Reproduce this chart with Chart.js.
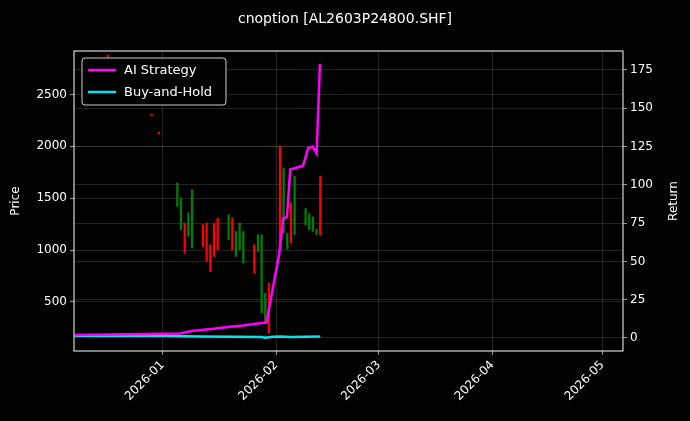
<!DOCTYPE html>
<html><head><meta charset="utf-8">
<script src="https://cdn.jsdelivr.net/npm/chart.js@4"></script>
<style>html,body{margin:0;background:#000;}#c{display:block}</style></head>
<body><canvas id="c" width="690" height="421"></canvas>
<script>
// days relative to 2026-01-01
const candleDays = [-15,-3,-1,4,5,6,7,8,11,12,13,14,15,18,19,20,21,22,25,26,27,28,29,32,33,34,35,36,39,40,41,42,43];
const candleLow  = [2860,2295,2120,1421,1196,970,1131,1019,1034,890,793,938,1002,1099,1002,938,1002,874,777,986,391,294,197,1000,1163,1010,1067,1147,1244,1196,1179,1150,1147];
const candleHigh = [2880,2310,2135,1647,1502,1260,1357,1582,1244,1260,1051,1260,1308,1341,1308,1179,1260,1179,1050,1147,1147,584,681,2001,1792,1163,1453,1711,1400,1350,1320,1200,1711];
const candleUp   = [0,0,0,1,1,0,1,1,0,0,0,0,0,1,0,1,1,1,0,1,1,1,0,0,1,1,0,1,1,1,1,1,0];
const aiDays = [-24,4.7,7.8,13.8,18.3,21.9,27.4,28.3,31.8,32.9,33.9,34.8,38.3,39.7,40.9,42,42.9];
const aiRet  = [2,3,4.5,6,7.4,8.2,10,10,55,78,79,110,112.5,124,125,120.5,179];
const bhDays = [-24,0,10,20,27,28,30,32,35,43];
const bhRet  = [1.5,1.5,1,0.8,0.6,0.2,0.8,1,0.7,1];
const tickDays = [0,31,59,90,120];
const tickLabels = ['2026-01','2026-02','2026-03','2026-04','2026-05'];

const candles = candleDays.map((d,i)=>({x:d,y:[candleLow[i],candleHigh[i]]}));
const candleCols = candleUp.map(u=>u?'#008000':'#ff0000');
const grid = {color:'rgba(128,128,128,0.45)',lineWidth:0.6,borderDash:[3,3],drawTicks:true,tickColor:'#fff',tickLength:4};
const font = {family:'DejaVu Sans',size:12};
const legendPlugin = {id:'lg',afterDraw(ch){
  const c=ch.ctx, a=ch.chartArea;
  c.save();
  c.font='13px DejaVu Sans'; c.textBaseline='middle';
  const x=a.left+8,y=a.top+7,w=144,h=47;
  c.fillStyle='rgba(0,0,0,0.8)'; c.strokeStyle='#ccc'; c.lineWidth=1;
  c.beginPath(); c.roundRect(x,y,w,h,3); c.fill(); c.stroke();
  [['AI Strategy','#ff00ff'],['Buy-and-Hold','#00e5ee']].forEach((it,i)=>{
    const yy=y+12+i*22;
    c.strokeStyle=it[1]; c.lineWidth=2.5; c.beginPath(); c.moveTo(x+6,yy); c.lineTo(x+34,yy); c.stroke();
    c.fillStyle='#fff'; c.fillText(it[0],x+42,yy+1);
  });
  c.font='14px DejaVu Sans'; c.textAlign='center'; c.fillStyle='#fff';
  c.fillText('cnoption [AL2603P24800.SHF]',345,19);
  c.font='12px DejaVu Sans';
  c.save(); c.translate(674,(a.top+a.bottom)/2); c.rotate(-Math.PI/2); c.fillText('Return',0,0); c.restore();
  c.save(); c.translate(16,(a.top+a.bottom)/2); c.rotate(-Math.PI/2); c.fillText('Price',0,0); c.restore();
  c.restore();
}};
const bgPlugin={id:'bg',beforeDraw(ch){const c=ch.ctx;c.save();c.fillStyle='#000';c.fillRect(0,0,690,421);c.restore();},
 afterDraw(ch){const c=ch.ctx,a=ch.chartArea;c.save();c.strokeStyle='#fff';c.lineWidth=1;c.strokeRect(a.left,a.top,a.right-a.left,a.bottom-a.top);c.restore();}};
new Chart(document.getElementById('c'),{
  type:'bar',
  data:{datasets:[
    {type:'line',label:'AI Strategy',data:aiDays.map((d,i)=>({x:d,y:aiRet[i]})),borderColor:'#ff00ff',borderWidth:2.5,pointRadius:0,yAxisID:'y1',order:0},
    {type:'line',label:'Buy-and-Hold',data:bhDays.map((d,i)=>({x:d,y:bhRet[i]})),borderColor:'#00e5ee',borderWidth:2.5,pointRadius:0,yAxisID:'y1',order:1},
    {type:'bar',label:'Price',data:candles,backgroundColor:candleCols,barThickness:1.6,yAxisID:'y',order:2}
  ]},
  options:{responsive:false,animation:false,
    layout:{padding:{top:51,left:0,right:0,bottom:0}},
    plugins:{legend:{display:false},tooltip:{enabled:false}},
    scales:{
      x:{type:'linear',offset:false,min:-24.2,max:125.6,grid:{...grid,offset:false},border:{display:false},
        afterBuildTicks(s){s.ticks=tickDays.map(v=>({value:v}));},
        ticks:{color:'#fff',font:font,maxRotation:45,minRotation:45,autoSkip:false,callback:(v)=>tickLabels[tickDays.indexOf(v)]},
        afterFit(s){s.height=70;}},
      y:{position:'left',min:26,max:2920,grid:grid,border:{display:false},
        afterBuildTicks(s){s.ticks=[500,1000,1500,2000,2500].map(v=>({value:v}));},
        ticks:{color:'#fff',font:font,callback:v=>String(v)},
        afterFit(s){s.width=74;}},
      y1:{position:'right',min:-8.5,max:187.4,grid:{...grid,drawOnChartArea:true},border:{display:false},
        afterBuildTicks(s){s.ticks=[0,25,50,75,100,125,150,175].map(v=>({value:v}));},
        ticks:{color:'#fff',font:font},
        afterFit(s){s.width=67;}}
    }},
  plugins:[bgPlugin,legendPlugin]
});
</script></body></html>
